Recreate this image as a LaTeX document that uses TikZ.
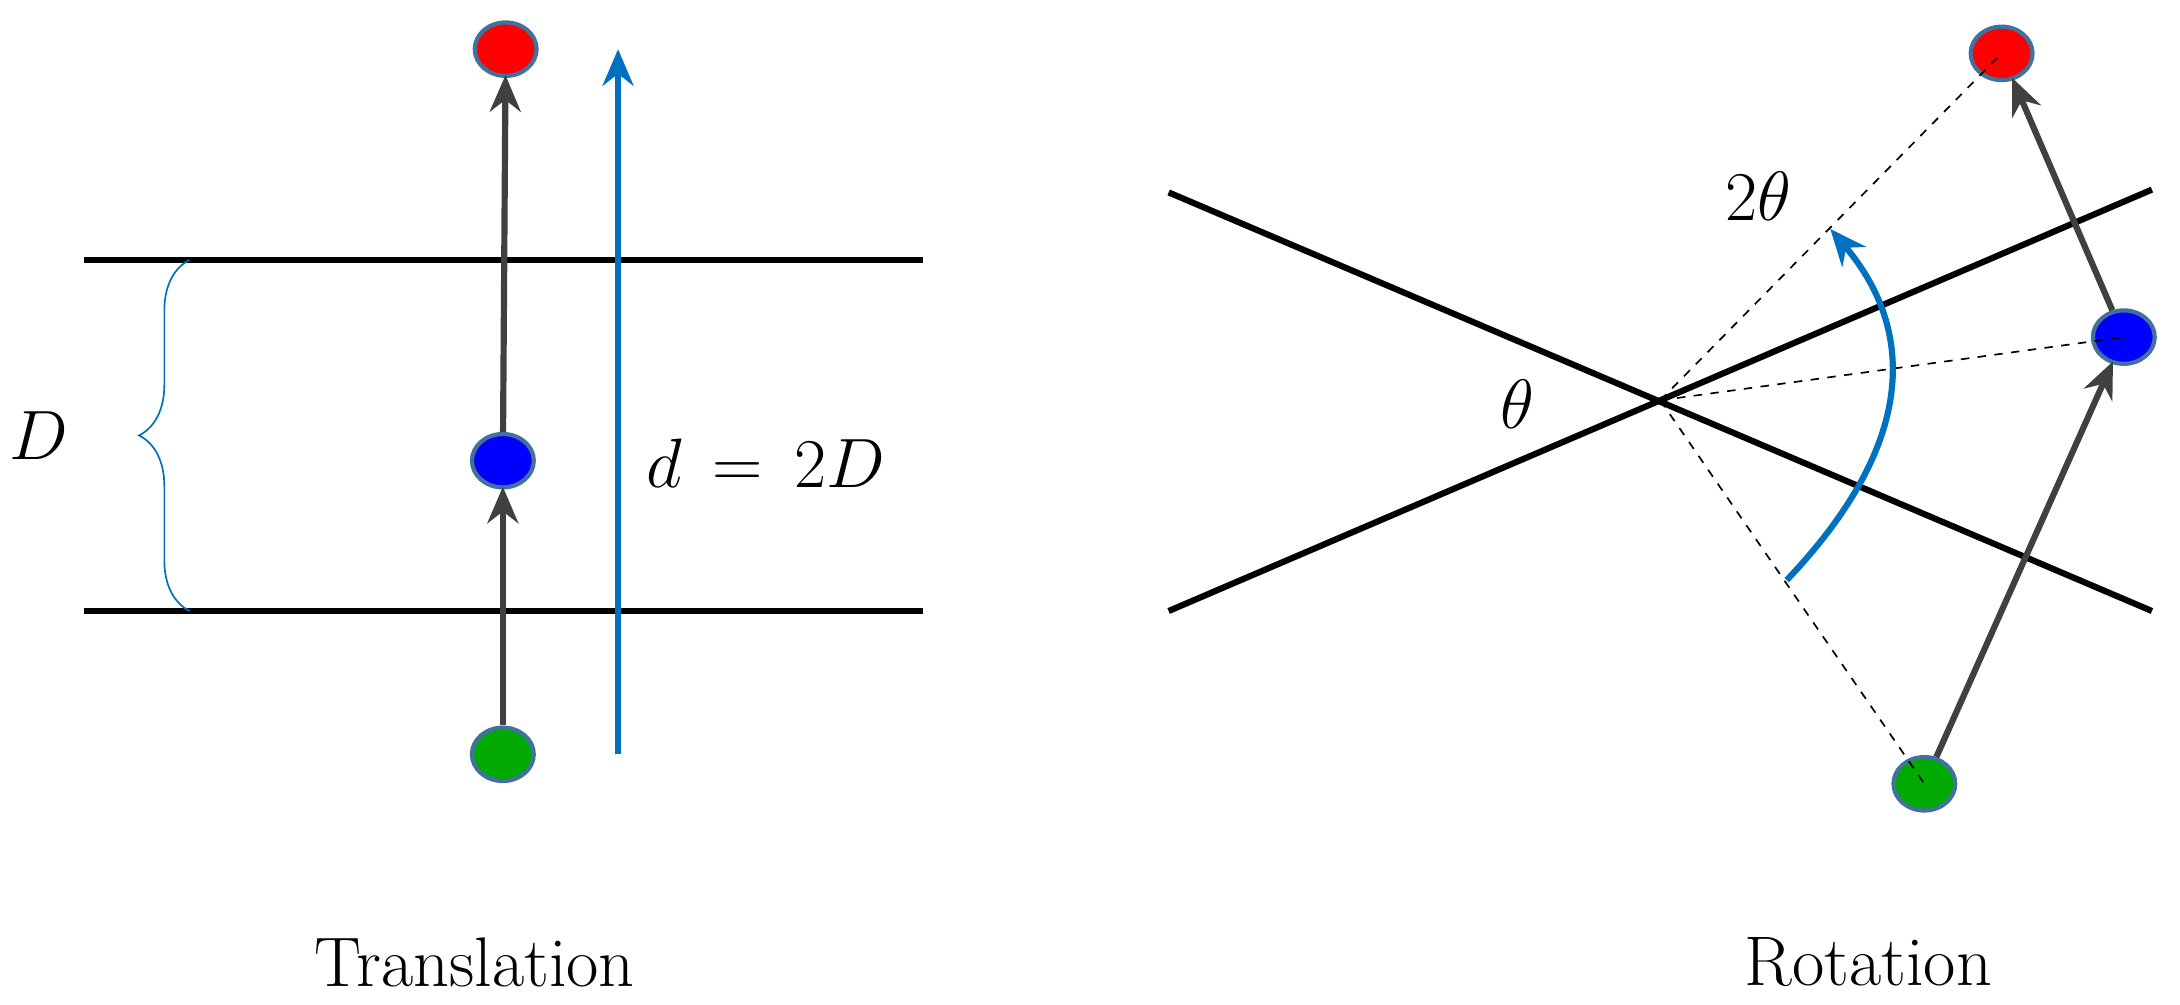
\documentclass[tikz,border=0pt]{standalone}
\usetikzlibrary{decorations.pathreplacing,arrows.meta,shapes.geometric}
\begin{document}
\begin{tikzpicture}[x=0.5pt,y=-0.5pt,
  dot/.style={ellipse,minimum width=22pt,minimum height=19pt,inner sep=0pt,draw=dotedge,line width=1.5pt},
  blk/.style={line width=2.2pt,black},
  garr/.style={line width=2.2pt,draw=arrgray,-{Stealth[length=13pt,width=11pt]},shorten >=-1pt},
  barr/.style={line width=2.2pt,draw=arrblue,-{Stealth[length=13pt,width=11pt]}},
  dsh/.style={dashed,line width=0.6pt,black},
  lbl/.style={font=\fontsize{25}{30}\selectfont}]
\definecolor{dotedge}{HTML}{41719C}
\definecolor{arrgray}{HTML}{404040}
\definecolor{arrblue}{HTML}{0070C0}
\useasboundingbox (0,0) rectangle (1552,715);
% left
\draw[blk] (60,185) -- (657,185);
\draw[blk] (60,435) -- (657,435);
\draw[arrblue,line width=0.6pt,decorate,decoration={brace,amplitude=18pt,mirror,raise=0pt}] (135,185) -- (135,435) coordinate[pos=0.5] (bm);
\node[lbl] (Dl) at (28,310) {$D$};
\node[dot,fill=red] (r1) at (360,35) {};
\node[dot,fill=blue] (b1) at (358,328) {};
\node[dot,fill={rgb,255:red,0;green,170;blue,0}] (g1) at (358,537) {};
\draw[garr] (g1) -- (b1);
\draw[garr] (b1) -- (r1);
\coordinate (bs) at (440,537); \coordinate (be) at (440,35);
\draw[barr] (bs) -- (be);
\node[lbl] (dd) at (545,330) {$d\,=\,2D$};
\node[lbl] (tr) at (338,685) {Translation};
% right
\coordinate (a1) at (832,137); \coordinate (a2) at (1532,435);
\coordinate (c1) at (832,435); \coordinate (c2) at (1532,135);
\draw[blk] (a1) -- (a2);
\draw[blk] (c1) -- (c2);
\coordinate (O) at (1182,285);
\node[dot,fill=red] (r2) at (1425,38) {};
\node[dot,fill=blue] (b2) at (1512,240) {};
\node[dot,fill={rgb,255:red,0;green,170;blue,0}] (g2) at (1370,558) {};
\draw[dsh] (O) -- (r2.center);
\draw[dsh] (O) -- (b2.center);
\draw[dsh] (O) -- (g2.center);
\draw[garr] (g2) -- (b2);
\draw[garr] (b2) -- (r2);
\coordinate (cs) at (1272,413); \coordinate (ce) at (1303,163);
\draw[barr] (cs) .. controls (1370,310) and (1360,230) .. (ce);
\node[lbl] (th) at (1080,288) {$\theta$};
\node[lbl] (th2) at (1252,140) {$2\theta$};
\node[lbl] (ro) at (1330,685) {Rotation};
\end{tikzpicture}
\end{document}
